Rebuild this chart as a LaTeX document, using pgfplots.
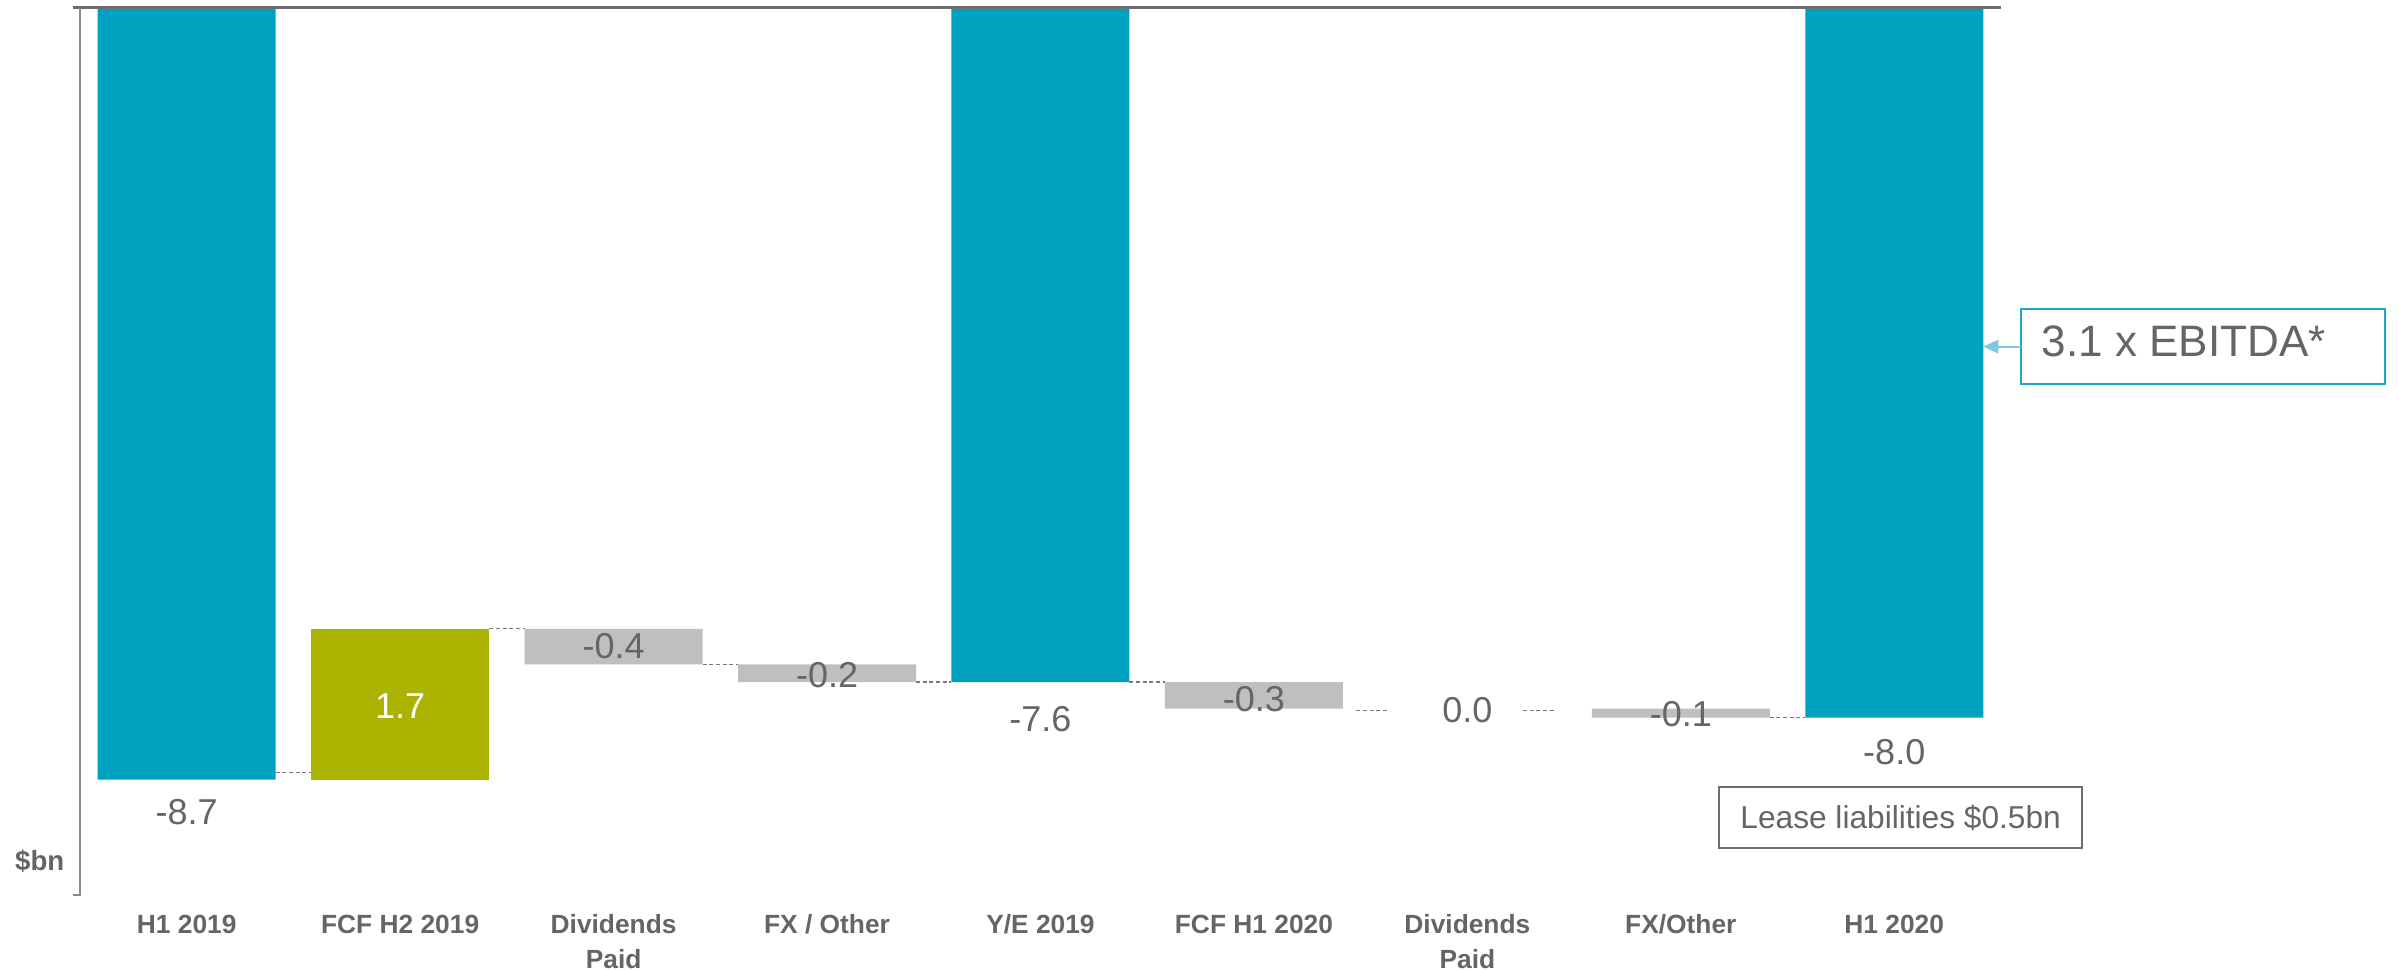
\documentclass[border=0pt]{standalone}
\usepackage{fontspec}
\setmainfont{Liberation Sans}
\usepackage{pgfplots}
\pgfplotsset{compat=1.18}
\usepackage{pgfplotstable}
\usetikzlibrary{arrows.meta}

\definecolor{netteal}{HTML}{00A0C0}
\definecolor{fcfgreen}{HTML}{AAB400}
\definecolor{movegray}{HTML}{BFBFBF}
\definecolor{txtgray}{HTML}{646469}
\definecolor{topline}{HTML}{6E6E72}
\definecolor{sideline}{HTML}{8A8A8E}
\definecolor{conngray}{HTML}{7A7A7E}
\definecolor{calloutblue}{HTML}{1BA8C6}
\definecolor{arrowblue}{HTML}{7EC8DD}
\definecolor{leasegray}{HTML}{6D6E72}

\tikzset{
  vlab/.style={text=txtgray, inner sep=0pt, font=\fontsize{10.8}{12}\selectfont},
  catlab/.style={anchor=north, inner sep=0pt, align=center, text=txtgray,
    font=\fontsize{7.9}{10.5}\selectfont\bfseries},
  conn/.style={conngray, line width=0.4pt, dash pattern=on 1.2pt off 0.8pt},
}

% Net debt bridge ($bn): invisible base + visible step for each category
\pgfplotstableread{
x base total up down
0 0 -8.7 0 0
1 -7.0 0 -1.7 0
2 -7.0 0 0 -0.4
3 -7.4 0 0 -0.2
4 0 -7.6 0 0
5 -7.6 0 0 -0.3
6 -7.9 0 0 0
7 -7.9 0 0 -0.1
8 0 -8.0 0 0
}\bridge

\begin{document}
\begin{tikzpicture}
\useasboundingbox (-24pt,-22.5pt) rectangle (695.7pt,268.5pt);
\begin{axis}[
  at={(0,0)}, anchor=south west,
  width=576.3pt, height=266.2pt, scale only axis,
  xmin=-0.5, xmax=8.5, ymin=-10, ymax=0,
  axis lines=none,
  ybar stacked, reverse stacked plots=false, bar width=0.834,
  clip=false,
]
\addplot[draw=none, fill=none] table[x=x,y=base]{\bridge};
\addplot[draw=none, fill=netteal] table[x=x,y=total]{\bridge};
\addplot[draw=none, fill=fcfgreen] table[x=x,y=up]{\bridge};
\addplot[draw=none, fill=movegray] table[x=x,y=down]{\bridge};

% frame: zero line on top, value axis on the left
\draw[topline, line width=0.7pt] ([xshift=-2pt]axis cs:-0.5,0) -- (axis cs:8.5,0);
\draw[sideline, line width=0.7pt] (axis cs:-0.5,0) -- (axis cs:-0.5,-10)
  -- ([xshift=-2pt]axis cs:-0.5,-10);

% connectors between steps
\draw[conn] (axis cs:0.417,-8.62) -- (axis cs:0.583,-8.62);
\draw[conn] (axis cs:1.417,-7.0) -- (axis cs:1.583,-7.0);
\draw[conn] (axis cs:2.417,-7.4) -- (axis cs:2.583,-7.4);
\draw[conn] (axis cs:3.417,-7.6) -- (axis cs:3.583,-7.6);
\draw[conn] (axis cs:4.417,-7.6) -- (axis cs:4.583,-7.6);
\draw[conn] (axis cs:5.48,-7.92) -- (axis cs:5.63,-7.92);
\draw[conn] (axis cs:6.26,-7.92) -- (axis cs:6.41,-7.92);
\draw[conn] (axis cs:7.417,-8.0) -- (axis cs:7.583,-8.0);

% value labels
\node[vlab] at (axis cs:0,-9.065) {-8.7};
\node[vlab, text=white] at (axis cs:1,-7.87) {1.7};
\node[vlab] at (axis cs:2,-7.2) {-0.4};
\node[vlab] at (axis cs:3,-7.52) {-0.2};
\node[vlab] at (axis cs:4,-8.02) {-7.6};
\node[vlab] at (axis cs:5,-7.79) {-0.3};
\node[vlab] at (axis cs:6,-7.92) {0.0};
\node[vlab] at (axis cs:7,-7.96) {-0.1};
\node[vlab] at (axis cs:8,-8.39) {-8.0};

% category labels
\node[catlab] at (axis cs:0,-10.214) {H1 2019};
\node[catlab] at (axis cs:1,-10.214) {FCF H2 2019};
\node[catlab] at (axis cs:2,-10.214) {Dividends\\Paid};
\node[catlab] at (axis cs:3,-10.214) {FX / Other};
\node[catlab] at (axis cs:4,-10.214) {Y/E 2019};
\node[catlab] at (axis cs:5,-10.214) {FCF H1 2020};
\node[catlab] at (axis cs:6,-10.214) {Dividends\\Paid};
\node[catlab] at (axis cs:7,-10.214) {FX/Other};
\node[catlab] at (axis cs:8,-10.214) {H1 2020};

% unit
\node[anchor=east, inner sep=0pt, text=txtgray, font=\fontsize{8.3}{10}\selectfont\bfseries]
  at ([xshift=-4.5pt]axis cs:-0.5,-9.625) {\$bn};

% lease note
\node[draw=leasegray, line width=0.7pt, minimum width=108.9pt, minimum height=18.3pt,
  inner sep=0pt, text=txtgray, font=\fontsize{9.5}{11}\selectfont]
  at (axis cs:8.03,-9.13) {Lease liabilities \$0.5bn};

% leverage callout
\node[draw=calloutblue, line width=0.6pt, minimum width=109.2pt, minimum height=22.5pt,
  inner sep=0pt] at (axis cs:9.448,-3.82) {};
\node[anchor=west, inner sep=0pt, text=txtgray, font=\fontsize{13.2}{15}\selectfont]
  at ([xshift=6pt,yshift=1.5pt]axis cs:8.595,-3.82) {3.1 x EBITDA*};
\draw[arrowblue, line width=0.6pt, -{Triangle[length=4.5pt,width=4pt]}]
  (axis cs:8.595,-3.82) -- (axis cs:8.417,-3.82);
\end{axis}
\end{tikzpicture}
\end{document}
